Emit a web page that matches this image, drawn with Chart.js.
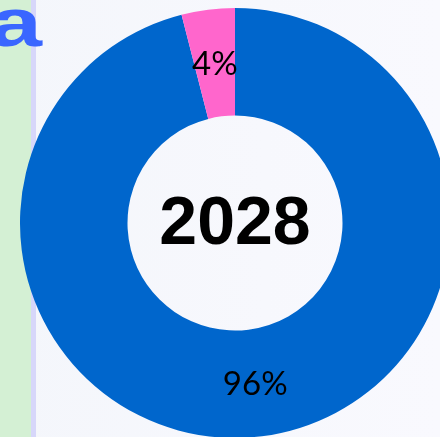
<!DOCTYPE html>
<html>
<head>
<meta charset="utf-8">
<script src="https://cdn.jsdelivr.net/npm/chart.js@4"></script>
<style>
  html, body { margin: 0; padding: 0; }
  body {
    width: 440px; height: 437px; overflow: hidden; position: relative;
    background: linear-gradient(90deg, #f4f6fb 0%, #f7f8fd 60%, #f9f9fe 100%);
  }
  #strip { position: absolute; left: 0; top: 0; width: 31px; height: 437px; background: #d4f0d4; }
  #edge { position: absolute; left: 31px; top: 0; width: 5px; height: 437px; background: #d7d7fa; }
  #letter {
    position: absolute; left: -11px; top: -12px;
    font: bold 68px "Liberation Sans", Arial, sans-serif; color: #3a66ff;
    transform: scaleX(1.4); transform-origin: left top; line-height: 1;
  }
  #wrap { position: absolute; left: 20px; top: 8px; width: 430px; height: 430px; }
</style>
</head>
<body>
<div id="strip"></div>
<div id="edge"></div>
<div id="letter">a</div>
<div id="wrap"><canvas id="pie"></canvas></div>
<script>
// 2028 share
const year = '2028';
const labels = ['Other', 'Segment'];
const values = [96, 4];
const colors = ['#0066cc', '#ff66cc'];

// percent labels in the middle of each ring slice + year in the hole
const sliceLabels = {
    id: 'sliceLabels',
    afterDatasetsDraw(chart) {
        let ctx = chart.ctx;
        let meta = chart.getDatasetMeta(0);
        ctx.save();
        ctx.textAlign = 'center';
        ctx.textBaseline = 'middle';
        ctx.fillStyle = '#000';
        ctx.font = '33px Lato, "Open Sans", sans-serif';
        meta.data.forEach(function (arc, i) {
            let p = arc.tooltipPosition();
            ctx.fillText(values[i] + '%', p.x, p.y + 1);
        });
        let c = meta.data[0];
        ctx.font = 'bold 68px "Liberation Sans", Arial, sans-serif';
        ctx.fillText(year, c.x, c.y + 2);
        ctx.restore();
    }
};

let ctx = document.getElementById('pie').getContext('2d');
let chart = new Chart(ctx, {
    type: 'doughnut',
    data: {
        labels: labels,
        datasets: [{
            data: values,
            backgroundColor: colors,
            borderWidth: 0,
            hoverOffset: 0
        }]
    },
    options: {
        responsive: true,
        maintainAspectRatio: false,
        animation: false,
        events: [],
        cutout: '50%',
        layout: { padding: 0 },
        plugins: {
            legend: { display: false },
            tooltip: { enabled: false }
        }
    },
    plugins: [sliceLabels]
});
</script>
</body>
</html>
